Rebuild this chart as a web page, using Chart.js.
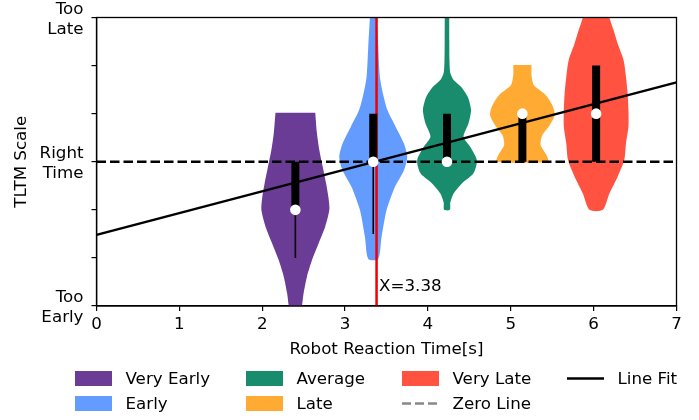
<!DOCTYPE html>
<html>
<head>
<meta charset="utf-8">
<script src="https://cdn.jsdelivr.net/npm/chart.js@4.4.1/dist/chart.umd.min.js"></script>
<style>
    html, body { margin: 0; padding: 0; background: #fff; }
    #wrap { width: 699px; height: 420px; position: relative; }
</style>
</head>
<body>
<div id="wrap"><canvas id="myChart"></canvas></div>
<script>
const categories = ["Very Early", "Early", "Average", "Late", "Very Late"];
const positions = [2.40, 3.34, 4.23, 5.14, 6.03]; // mean reaction time of each group
const medians = [-1, 0, 0, 1, 1];
const boxLow = [-1, 0, 0, 0, 0];
const boxHigh = [0, 1, 1, 1, 2];
const whiskerLow = [-2, -1.5, null, null, null];

// violin outlines: TLTM level -> half width (seconds)
const veryEarlyLevels = [1.02, 0.6, 0.24, -0.1, -0.44, -0.75, -1.0, -1.35, -1.7, -2.05, -2.39, -2.73, -3.0, -3.2];
const veryEarlyWidths = [0.24, 0.26, 0.29, 0.33, 0.37, 0.40, 0.41, 0.36, 0.28, 0.20, 0.14, 0.10, 0.08, 0.06];
const earlyLevels = [3.3, 3.0, 2.4, 1.77, 1.4, 1.08, 0.73, 0.38, 0.1, -0.18, -0.53, -1.01, -1.57, -2.02];
const earlyWidths = [0.03, 0.04, 0.06, 0.08, 0.12, 0.17, 0.27, 0.37, 0.41, 0.37, 0.26, 0.16, 0.10, 0.06];
const averageLevels = [3.3, 3.0, 2.5, 2.12, 1.85, 1.7, 1.56, 1.35, 1.08, 0.8, 0.52, 0.31, 0.03, -0.24, -0.45, -0.66, -0.85, -1.0];
const averageWidths = [0.025, 0.027, 0.028, 0.03, 0.04, 0.08, 0.17, 0.25, 0.29, 0.26, 0.20, 0.28, 0.36, 0.32, 0.18, 0.08, 0.04, 0.035];
const lateLevels = [2.01, 1.80, 1.59, 1.39, 1.18, 0.97, 0.76, 0.55, 0.35, 0.14, 0.0];
const lateWidths = [0.11, 0.11, 0.14, 0.28, 0.36, 0.39, 0.33, 0.24, 0.22, 0.29, 0.31];
const veryLateLevels = [3.3, 3.0, 2.74, 2.46, 2.12, 1.77, 1.42, 1.08, 0.73, 0.38, 0.04, -0.31, -0.66, -1.0];
const veryLateWidths = [0.12, 0.16, 0.21, 0.26, 0.33, 0.36, 0.38, 0.39, 0.39, 0.36, 0.34, 0.26, 0.16, 0.08];

const violinLevels = [veryEarlyLevels, earlyLevels, averageLevels, lateLevels, veryLateLevels];
const violinWidths = [veryEarlyWidths, earlyWidths, averageWidths, lateWidths, veryLateWidths];

const lineFitX = [0, 7];
const lineFitY = [-1.52, 1.65];
const thresholdX = 3.38;
const thresholdText = "X=3.38";

const yTickValues = [-3, -2, -1, 0, 1, 2, 3];
const yTickLabels = [["Too", "Early"], "", "", ["Right", "Time"], "", "", ["Too", "Late"]];

const colors = ["#6a3c96", "#649bff", "#1a8c6e", "#ffaa32", "#ff5241"];

const FONT_SIZE = 16.7;
Chart.defaults.font.family = "'DejaVu Sans', sans-serif";
Chart.defaults.font.size = FONT_SIZE;
Chart.defaults.color = "#000";

function violinOutline(center, levels, widths) {
    let left = levels.map((y, i) => ({x: center - widths[i], y: y}));
    let right = levels.map((y, i) => ({x: center + widths[i], y: y})).reverse();
    return left.concat(right);
}

let datasets = [];

categories.forEach((name, i) => {
    datasets.push({
        label: name,
        data: violinOutline(positions[i], violinLevels[i], violinWidths[i]),
        backgroundColor: colors[i],
        borderColor: "rgba(0,0,0,0)",
        borderWidth: 0,
        fill: "shape",
        pointRadius: 0,
        tension: 0.25,
        order: 10
    });
});

datasets.push({
    label: "Zero Line",
    data: [{x: 0, y: 0}, {x: 7, y: 0}],
    borderColor: "#000",
    borderWidth: 2.5,
    borderDash: [9.5, 4],
    pointRadius: 0,
    fill: false,
    order: 4
});

datasets.push({
    label: "Line Fit",
    data: lineFitX.map((x, i) => ({x: x, y: lineFitY[i]})),
    borderColor: "#000",
    borderWidth: 2.5,
    pointRadius: 0,
    fill: false,
    order: 4
});

datasets.push({
    label: "threshold",
    data: [{x: thresholdX, y: -3}, {x: thresholdX, y: 3}],
    borderColor: "#f00000",
    borderWidth: 2.5,
    pointRadius: 0,
    fill: false,
    order: 3
});

// whiskers and boxes, one segment per group separated by gaps
let whiskerData = [];
let boxData = [];
positions.forEach((x, i) => {
    if (whiskerLow[i] !== null) {
        whiskerData.push({x: x, y: whiskerLow[i]}, {x: x, y: boxLow[i]}, {x: x, y: null});
    }
    boxData.push({x: x, y: boxLow[i]}, {x: x, y: boxHigh[i]}, {x: x, y: null});
});

datasets.push({
    label: "whiskers",
    data: whiskerData,
    borderColor: "#000",
    borderWidth: 1.6,
    pointRadius: 0,
    fill: false,
    order: 2
});

datasets.push({
    label: "boxes",
    data: boxData,
    borderColor: "#000",
    borderWidth: 8,
    borderCapStyle: "butt",
    pointRadius: 0,
    fill: false,
    order: 1
});

datasets.push({
    label: "medians",
    data: positions.map((x, i) => ({x: x, y: medians[i]})),
    showLine: false,
    pointRadius: 5.3,
    pointBackgroundColor: "#fff",
    pointBorderWidth: 0,
    pointBorderColor: "#fff",
    order: 0
});

const legendEntries = [
    {label: "Very Early", kind: "patch", color: colors[0], col: 0, row: 0},
    {label: "Early", kind: "patch", color: colors[1], col: 0, row: 1},
    {label: "Average", kind: "patch", color: colors[2], col: 1, row: 0},
    {label: "Late", kind: "patch", color: colors[3], col: 1, row: 1},
    {label: "Very Late", kind: "patch", color: colors[4], col: 2, row: 0},
    {label: "Zero Line", kind: "dash", color: "#888", col: 2, row: 1},
    {label: "Line Fit", kind: "line", color: "#000", col: 3, row: 0}
];

const extras = {
    id: "extras",
    afterDatasetsDraw(chart) {
        const ctx = chart.ctx;
        const area = chart.chartArea;
        const xs = chart.scales.x;
        const ys = chart.scales.y;

        // full frame
        ctx.save();
        ctx.strokeStyle = "#000";
        ctx.lineWidth = 1.3;
        ctx.strokeRect(area.left, area.top, area.right - area.left, area.bottom - area.top);

        // threshold label
        ctx.fillStyle = "#000";
        ctx.font = FONT_SIZE + "px 'DejaVu Sans'";
        ctx.textAlign = "left";
        ctx.textBaseline = "alphabetic";
        ctx.fillText(thresholdText, xs.getPixelForValue(thresholdX) + 2.5, ys.getPixelForValue(-2.69));
        ctx.restore();
    },
    afterDraw(chart) {
        const ctx = chart.ctx;
        const colX = [75, 246, 402, 567];
        const rowY = [378.5, 403.5];
        ctx.save();
        ctx.font = FONT_SIZE + "px 'DejaVu Sans'";
        ctx.textBaseline = "middle";
        ctx.textAlign = "left";
        for (let e of legendEntries) {
            let x = colX[e.col];
            let y = rowY[e.row];
            if (e.kind === "patch") {
                ctx.fillStyle = e.color;
                ctx.fillRect(x, y - 7.5, 37, 15);
            } else {
                ctx.strokeStyle = e.color;
                ctx.lineWidth = 2.5;
                ctx.setLineDash(e.kind === "dash" ? [9, 4] : []);
                ctx.beginPath();
                ctx.moveTo(x, y);
                ctx.lineTo(x + 37, y);
                ctx.stroke();
                ctx.setLineDash([]);
            }
            ctx.fillStyle = "#000";
            ctx.fillText(e.label, x + 50.5, y + 1);
        }
        ctx.restore();
    }
};

const ctx = document.getElementById("myChart");

let myChart = new Chart(ctx, {
    type: "line",
    data: {datasets: datasets},
    plugins: [extras],
    options: {
        responsive: true,
        maintainAspectRatio: false,
        animation: false,
        layout: {
            padding: {top: 17.5, right: 22.5, bottom: 60, left: 0}
        },
        plugins: {
            legend: {display: false},
            tooltip: {enabled: false}
        },
        scales: {
            x: {
                type: "linear",
                min: 0,
                max: 7,
                afterFit: (s) => { s.height = 54; s.paddingLeft = 0; s.paddingRight = 0; },
                ticks: {stepSize: 1, padding: 4, maxRotation: 0},
                grid: {display: true, drawOnChartArea: false, drawTicks: true, tickLength: 5, color: "#000", lineWidth: 1.2},
                border: {display: true, color: "#000", width: 1.3},
                title: {display: true, text: "Robot Reaction Time[s]", padding: {top: 0, bottom: 0}}
            },
            y: {
                type: "linear",
                min: -3,
                max: 3,
                afterFit: (s) => { s.width = 96.5; s.paddingTop = 0; s.paddingBottom = 0; },
                ticks: {
                    stepSize: 1,
                    padding: 8,
                    labelOffset: 2,
                    font: {size: FONT_SIZE, lineHeight: 1.2},
                    callback: (v) => {
                        let i = yTickValues.indexOf(v);
                        return i >= 0 ? yTickLabels[i] : "";
                    }
                },
                grid: {display: true, drawOnChartArea: false, drawTicks: true, tickLength: 5, color: "#000", lineWidth: 1.2},
                border: {display: true, color: "#000", width: 1.3},
                title: {display: true, text: "TLTM Scale", padding: {top: 11.5, bottom: 0}}
            }
        }
    }
});
</script>
</body>
</html>
